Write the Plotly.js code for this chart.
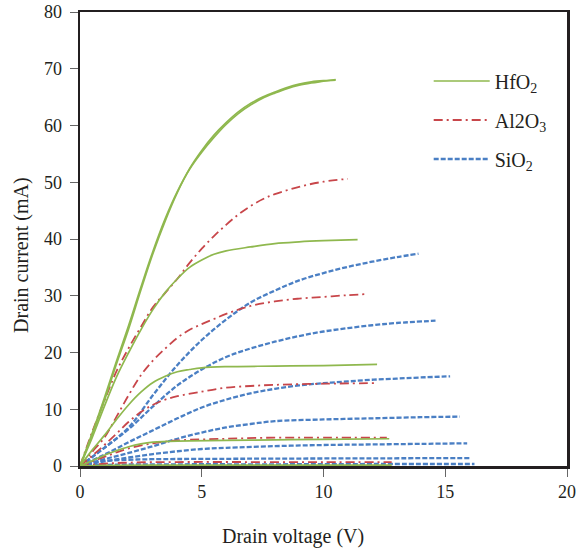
<!DOCTYPE html>
<html>
<head>
<meta charset="utf-8">
<script src="https://cdn.plot.ly/plotly-3.0.1.min.js"></script>
<style>html,body{margin:0;padding:0;background:#fff;}</style>
</head>
<body>
<div id="chart" style="width:577px;height:548px;"></div>
<script>
// ---------- HfO2 (solid green) ----------
const hfo2_1_v  = [0,0.5,1,1.5,2,2.5,3,3.5,4,4.5,5,5.5,6,6.5,7,7.5,8,8.5,9,9.5,10,10.5];
const hfo2_1_i  = [0,5.5,11.5,18,24.2,31,37.5,43.2,48.2,52.4,55.6,58.3,60.5,62.4,63.9,65,65.9,66.7,67.3,67.7,67.9,68.0];
const hfo2_1b_i = [0,5.8,12,18.5,24.8,31.5,37.9,43.6,48.4,52.3,55.3,57.9,60.2,62.1,63.6,64.8,65.7,66.5,67.1,67.5,67.8,68.1];
const hfo2_2_v  = [0,0.5,1,1.5,2,2.5,3,3.5,4,4.5,5,5.5,6,7,8,9,10,11.4];
const hfo2_2_i  = [0,5,10.5,15.7,20,24,27.6,30.6,33,35,36.3,37.3,37.9,38.6,39.2,39.5,39.7,39.9];
const hfo2_3_v  = [0,0.5,1,1.5,2,2.5,3,3.5,4,4.5,5,6,8,10,12.2];
const hfo2_3_i  = [0,2.8,5.4,8.2,10.8,13,14.7,15.8,16.6,17,17.3,17.5,17.6,17.7,17.9];
const hfo2_4_v  = [0,0.5,1,1.5,2,2.5,3,4,6,8,10,12.7];
const hfo2_4_i  = [0,0.9,1.9,2.7,3.4,3.9,4.2,4.4,4.5,4.6,4.7,4.8];
const hfo2_5_v  = [0,1,3,6,9,12.8];
const hfo2_5_i  = [0,0.1,0.15,0.15,0.15,0.15];

// ---------- Al2O3 (red dash-dot) ----------
const al2o3_1_v = [0,0.5,1,1.5,2,2.5,3,3.5,4,4.5,5,5.5,6,6.5,7,7.5,8,9,10,11];
const al2o3_1_i = [0,6,11.5,16.7,20.8,24.5,28,30.5,33,35.8,38.3,40.5,42.5,44.3,45.8,47,47.9,49.2,50.1,50.6];
const al2o3_2_v = [0,0.5,1,1.5,2,2.5,3,3.5,4,4.5,5,5.5,6,7,8,9,10,11,11.8];
const al2o3_2_i = [0,2.5,5,8.7,12.5,16,18.6,20.7,22.6,24,25,25.9,26.8,28.2,29,29.5,29.8,30.1,30.3];
const al2o3_3_v = [0,0.5,1,1.5,2,2.5,3,3.5,4,5,6,7,8,10,12.2];
const al2o3_3_i = [0,1.8,3.7,5.7,7.8,9.5,10.8,11.7,12.3,13.1,13.8,14.1,14.3,14.5,14.6];
const al2o3_4_v = [0,0.5,1,1.5,2,3,4,6,8,10,12.6];
const al2o3_4_i = [0,0.8,1.6,2.4,3.1,4.0,4.5,4.8,5.0,5.0,5.0];
const al2o3_5_v = [0,1,2,4,7,10,12.8];
const al2o3_5_i = [0,0.4,0.6,0.7,0.7,0.7,0.7];

// ---------- SiO2 (blue dashed) ----------
const sio2_1_v = [0,1,2,3,4,5,6,7,8,9,10,11,12,13,13.9];
const sio2_1_i = [0,3.2,6.8,12.5,17.8,22.2,25.8,28.8,30.9,32.7,34,35.1,36,36.8,37.4];
const sio2_2_v = [0,1,2,3,4,5,6,7,8,9,10,11,12,13,14.6];
const sio2_2_i = [0,3.2,6.5,10.5,14.2,17,19.2,20.7,21.9,22.9,23.7,24.3,24.8,25.2,25.6];
const sio2_3_v = [0,1,2,3,4,5,6,7,8,9,10,11,12,13,14,15.2];
const sio2_3_i = [0,2,4.2,6.3,8.4,10.3,11.7,12.8,13.6,14.2,14.6,14.9,15.2,15.4,15.6,15.8];
const sio2_4_v = [0,1,2,3,4,5,6,7,8,10,12,14,15.6];
const sio2_4_i = [0,1.2,2.3,3.5,4.8,5.9,6.8,7.4,7.9,8.2,8.4,8.6,8.7];
const sio2_5_v = [0,1,2,3,4,5,6,8,10,12,14,15.9];
const sio2_5_i = [0,0.8,1.5,2.1,2.6,3.0,3.2,3.5,3.7,3.8,3.9,4.0];
const sio2_6_v = [0,0.5,1,2,3,5,8,12,16];
const sio2_6_i = [0,0.6,0.9,1.1,1.2,1.25,1.3,1.35,1.4];
const sio2_7_v = [0,1,4,8,12,16.2];
const sio2_7_i = [0,0.2,0.3,0.3,0.35,0.35];

const seriesNames = ['HfO<sub>2</sub>', 'Al2O<sub>3</sub>', 'SiO<sub>2</sub>'];
const xTitle = 'Drain voltage (V)';
const yTitle = 'Drain current (mA)';

const GREEN = '#8fb84e', RED = '#c8464a', BLUE = '#4a7fc4';
const styles = [
  {color: GREEN, width: 1.7, dash: 'solid'},
  {color: RED, width: 1.8, dash: '9px,4px,2px,4px'},
  {color: BLUE, width: 2.3, dash: '5px,2px'}
];

const groups = [
  [[hfo2_1_v,hfo2_1_i],[hfo2_1_v,hfo2_1b_i],[hfo2_2_v,hfo2_2_i],[hfo2_3_v,hfo2_3_i],[hfo2_4_v,hfo2_4_i],[hfo2_5_v,hfo2_5_i]],
  [[al2o3_1_v,al2o3_1_i],[al2o3_2_v,al2o3_2_i],[al2o3_3_v,al2o3_3_i],[al2o3_4_v,al2o3_4_i],[al2o3_5_v,al2o3_5_i]],
  [[sio2_1_v,sio2_1_i],[sio2_2_v,sio2_2_i],[sio2_3_v,sio2_3_i],[sio2_4_v,sio2_4_i],[sio2_5_v,sio2_5_i],[sio2_6_v,sio2_6_i],[sio2_7_v,sio2_7_i]]
];

const traces = [];
[2,1,0].forEach(g => {
  groups[g].forEach((c, k) => {
    traces.push({
      type: 'scatter', mode: 'lines',
      x: c[0], y: c[1],
      name: seriesNames[g],
      legendgroup: 'g' + g,
      legendrank: g + 1,
      showlegend: k === 0,
      line: Object.assign({shape: 'spline', smoothing: 1.0}, styles[g]),
      hoverinfo: 'skip'
    });
  });
});

const FONT = 'Liberation Serif, Times New Roman, serif';
const TXT = '#231f20';

const layout = {
  width: 577, height: 548,
  margin: {l: 80, r: 10, t: 12, b: 82},
  paper_bgcolor: '#fff', plot_bgcolor: '#fff',
  font: {family: FONT, color: TXT, size: 18},
  showlegend: true,
  legend: {
    x: 0.716, y: 0.891, xanchor: 'left', yanchor: 'top',
    font: {family: FONT, size: 20, color: TXT},
    bgcolor: 'rgba(0,0,0,0)', borderwidth: 0,
    tracegroupgap: 10, itemwidth: 56, traceorder: 'grouped'
  },
  xaxis: {
    range: [0, 20], tickvals: [0,5,10,15,20],
    showgrid: false, zeroline: false,
    showline: true, mirror: true, linewidth: 2.5, linecolor: TXT,
    ticks: 'outside', ticklen: 8, tickwidth: 1, tickcolor: '#666',
    tickfont: {family: FONT, size: 18, color: TXT}
  },
  yaxis: {
    range: [0, 80], tickvals: [0,10,20,30,40,50,60,70,80],
    showgrid: false, zeroline: false,
    showline: true, mirror: true, linewidth: 2.5, linecolor: TXT,
    ticks: 'outside', ticklen: 8, tickwidth: 1, tickcolor: '#666',
    ticklabelstandoff: 4,
    tickfont: {family: FONT, size: 18, color: TXT}
  },
  annotations: [
    {text: xTitle, xref: 'paper', yref: 'paper', x: 0.438, y: -0.156,
     xanchor: 'center', yanchor: 'middle', showarrow: false,
     font: {family: FONT, size: 20, color: TXT}},
    {text: yTitle, xref: 'paper', yref: 'paper', x: -0.119, y: 0.465,
     xanchor: 'center', yanchor: 'middle', showarrow: false, textangle: -90,
     font: {family: FONT, size: 20, color: TXT}}
  ]
};

Plotly.newPlot('chart', traces, layout, {displayModeBar: false, staticPlot: true});
</script>
</body>
</html>
